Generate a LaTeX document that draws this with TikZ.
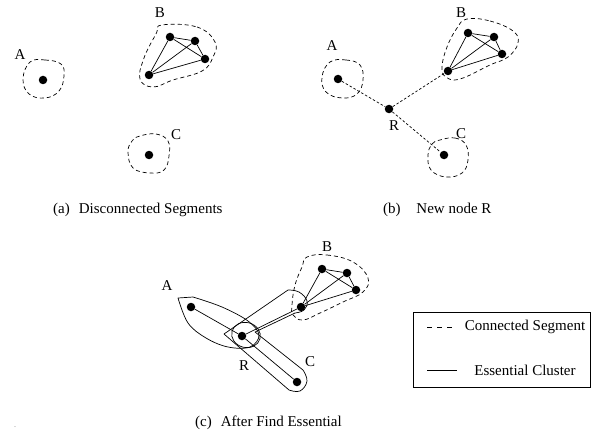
\documentclass[tikz,border=0pt]{standalone}
\usepackage{fontspec}
\setmainfont{Liberation Serif}
\tikzset{
  dot/.style={circle,fill=black,inner sep=0pt,minimum size=8.5pt},
  lbl/.style={font=\fontsize{15}{17}\selectfont,inner sep=0pt},
  seg/.style={dash pattern=on 4pt off 3pt,line width=0.7pt},
  legdash/.style={dash pattern=on 5pt off 5pt,line width=0.7pt},
  link/.style={line width=0.7pt},
  cluster/.style={line width=0.7pt,line join=round},
  bridge/.style={dash pattern=on 2.5pt off 2pt,line width=0.7pt},
  legendbox/.style={draw,line width=0.7pt,minimum width=177pt,minimum height=75pt,inner sep=0pt}
}
\begin{document}
\begin{tikzpicture}[x=1pt,y=-1pt]
\useasboundingbox (0,0) rectangle (596,433);

% ---------- (a) disconnected segments ----------
\node[dot] (aA)  at (43,80) {};
\node[dot] (aB1) at (170,37) {};
\node[dot] (aB2) at (195,41) {};
\node[dot] (aB3) at (205,59) {};
\node[dot] (aB4) at (149,75) {};
\node[dot] (aC)  at (149,155) {};
\draw[link] (aB1)--(aB2) (aB1)--(aB3) (aB1)--(aB4) (aB2)--(aB3) (aB2)--(aB4) (aB3)--(aB4);
\draw[seg] plot[smooth cycle,tension=0.7] coordinates {(30,62) (45,60) (61,64) (64,76) (59,91) (45,98) (29,94) (23,79)};
\draw[seg] plot[smooth cycle,tension=0.7] coordinates {(162,25) (197,27) (215,42) (213,57) (202,71) (173,80) (153,87) (140,79) (144,58) (156,34)};
\draw[seg] plot[smooth cycle,tension=0.7] coordinates {(140,136) (156,134) (168,141) (169,156) (164,170) (150,173) (133,168) (128,152) (132,141)};
\node[lbl] (aAl) at (20,55) {A};
\node[lbl] (aBl) at (160,13) {B};
\node[lbl] (aCl) at (176,135) {C};
\node[lbl,anchor=west] (capa) at (53,210) {(a)\hspace{0.6em}Disconnected Segments};

% ---------- (b) new node R ----------
\node[dot] (bA)  at (338,79) {};
\node[dot] (bR)  at (389,109) {};
\node[dot] (bB1) at (468,33) {};
\node[dot] (bB2) at (494,37) {};
\node[dot] (bB3) at (502,54) {};
\node[dot] (bB4) at (448,71) {};
\node[dot] (bC)  at (444,155) {};
\draw[link] (bB1)--(bB2) (bB1)--(bB3) (bB1)--(bB4) (bB2)--(bB3) (bB2)--(bB4) (bB3)--(bB4);
\draw[bridge] (bA)--(bR) (bR)--(bB4) (bR)--(bC);
\draw[seg] plot[smooth cycle,tension=0.7] coordinates {(330,62) (346,60) (360,65) (363,80) (357,94) (342,98) (326,92) (322,77)};
\draw[seg] plot[smooth cycle,tension=0.7] coordinates {(467,19) (490,21) (513,31) (518,43) (508,57) (490,65) (460,79) (446,77) (442,67) (447,47) (457,28)};
\draw[seg] plot[smooth cycle,tension=0.7] coordinates {(440,140) (455,138) (466,145) (468,160) (462,173) (446,177) (431,170) (428,155) (432,144)};
\node[lbl] (bAl) at (332,46) {A};
\node[lbl] (bRl) at (394,126) {R};
\node[lbl] (bBl) at (461,13) {B};
\node[lbl] (bCl) at (461,134) {C};
\node[lbl,anchor=west] (capb) at (383,210) {(b)\hspace{1.05em}New node R};

% ---------- (c) after find essential ----------
\node[dot] (cA)  at (191,307) {};
\node[dot] (cR)  at (242,336) {};
\node[dot] (cC)  at (297,382) {};
\node[dot] (cB1) at (322,269) {};
\node[dot] (cB2) at (347,273) {};
\node[dot] (cB3) at (356,290) {};
\node[dot] (cB4) at (301,307) {};
\draw[link] (cB1)--(cB2) (cB1)--(cB3) (cB1)--(cB4) (cB2)--(cB3) (cB2)--(cB4) (cB3)--(cB4);
\draw[link] (cA)--(cR) (cR)--(cC) (cR)--(cB4);
\draw[seg] plot[smooth cycle,tension=0.7] coordinates {(307,257) (327,255) (353,262) (368,278) (363,292) (343,302) (320,313) (303,320) (293,315) (292,305) (295,285) (302,267)};
% essential clusters
\draw[cluster] plot[smooth,tension=0.6] coordinates {(193,297) (222,307) (248,321) (259,335) (250,347) (228,347) (206,338) (188,323) (178,298)} -- cycle;
\draw[cluster] (224,334) -- (288,290)
  -- plot[smooth,tension=0.7] coordinates {(288,290) (299,292) (307,301) (304,310) (295,313)}
  -- (255,332) -- (303,370)
  -- plot[smooth,tension=0.7] coordinates {(303,370) (307,381) (300,391) (289,390)}
  -- cycle;
\draw[cluster,rotate around={-15:(246,335)}] (246,335) ellipse [x radius=14.5,y radius=12.5];
\node[lbl] (cAl) at (167,286) {A};
\node[lbl] (cRl) at (244,366) {R};
\node[lbl] (cBl) at (327,247) {B};
\node[lbl] (cCl) at (310,362) {C};
\node[lbl,anchor=west] (capc) at (195,423) {(c)\hspace{0.6em}After Find Essential};

% ---------- legend ----------
\node[legendbox] (leg) at (501.5,349.5) {};
\coordinate (l1a) at (427,327);
\coordinate (l1b) at (454,327);
\coordinate (l2a) at (427,370);
\coordinate (l2b) at (457,370);
\draw[legdash] (l1a)--(l1b);
\draw[link] (l2a)--(l2b);
\node[lbl] (legseg) at (525,327) {Connected Segment};
\node[lbl] (legcl) at (525,370) {Essential Cluster};

\node[font=\fontsize{8}{9}\selectfont,inner sep=0pt,text=gray] (stray) at (15,427) {.};
\end{tikzpicture}
\end{document}
